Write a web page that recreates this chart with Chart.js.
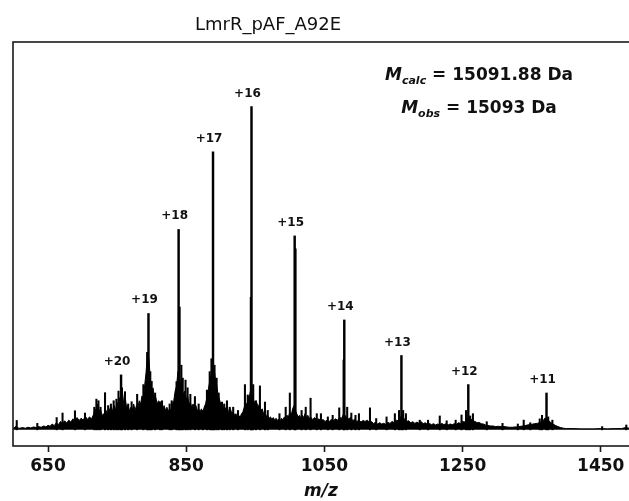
<!DOCTYPE html>
<html>
<head>
<meta charset="utf-8">
<script src="https://cdn.jsdelivr.net/npm/chart.js@4.4.1/dist/chart.umd.min.js"></script>
<style>
  body { margin: 0; background: #fff; }
  #spectrum { display: block; }
</style>
</head>
<body>
<canvas id="spectrum" width="629" height="501"></canvas>
<script>
// spectrum background (m/z, relative intensity)
var backgroundMz = [599.5, 602, 604, 606, 609, 613, 617, 621, 625, 629, 633, 636, 640, 644, 647,
  650, 653, 656, 659, 662, 665, 668, 671, 674, 677, 680, 683, 686, 689, 692, 695, 698, 701, 704, 707,
  710, 713, 716, 718, 720, 722, 724, 726, 728, 730, 732, 734, 736, 738, 740, 742, 744, 746, 748, 750,
  752, 754, 756, 758, 760, 762, 764, 766, 768, 770, 772, 774, 776, 778, 780, 782, 784, 786, 788, 790,
  792, 794, 796, 798, 800, 802, 804, 806, 808, 810, 812, 814, 816, 818, 820, 822, 824, 826, 828, 830,
  832, 834, 836, 838, 840, 842, 844, 846, 848, 850, 852, 854, 856, 858, 860, 862, 864, 866, 868, 870,
  872, 874, 876, 878, 880, 882, 884, 886, 888, 890, 892, 894, 896, 898, 900, 902, 904, 906, 908, 910,
  912, 914, 916, 918, 920, 922, 924, 926, 928, 930, 932, 934, 936, 938, 940, 942, 944, 946, 948, 950,
  952, 954, 956, 958, 960, 962, 964, 966, 968, 970, 972, 974, 976, 978, 980, 982, 984, 986, 988, 990,
  992, 994, 996, 998, 1000, 1002, 1004, 1006, 1008, 1010, 1012, 1014, 1016, 1018, 1020, 1022, 1024,
  1026, 1028, 1030, 1033, 1036, 1039, 1042, 1045, 1048, 1051, 1054, 1057, 1060, 1063, 1066, 1069,
  1072, 1075, 1078, 1080, 1082, 1085, 1088, 1091, 1094, 1097, 1100, 1103, 1106, 1109, 1112, 1115,
  1118, 1121, 1124, 1127, 1130, 1133, 1136, 1139, 1142, 1145, 1148, 1151, 1154, 1157, 1160, 1163,
  1166, 1169, 1172, 1175, 1178, 1181, 1184, 1187, 1190, 1193, 1196, 1199, 1202, 1205, 1208, 1211,
  1214, 1217, 1220, 1223, 1226, 1229, 1232, 1235, 1238, 1241, 1244, 1247, 1250, 1253, 1256, 1259,
  1262, 1265, 1268, 1271, 1274, 1277, 1280, 1283, 1286, 1290, 1294, 1298, 1302, 1306, 1310, 1314,
  1318, 1322, 1326, 1330, 1334, 1338, 1342, 1346, 1350, 1354, 1358, 1362, 1366, 1369, 1372, 1375,
  1378, 1381, 1384, 1388, 1392, 1396, 1400, 1410, 1420, 1430, 1440, 1450, 1460, 1470, 1480, 1486, 1491];
var backgroundInt = [0.4, 0.8, 1.2, 0.6, 0.5, 0.7, 0.5, 0.8, 0.6, 0.9, 0.7, 1.0, 0.8, 1.2, 0.9,
  1.4, 1.1, 1.8, 1.3, 2.2, 1.6, 2.6, 2.0, 2.8, 2.1, 3.0, 2.4, 3.4, 2.6, 3.8, 2.9, 3.6, 3.0, 4.2, 3.2,
  4.0, 3.4, 4.8, 6.5, 5.0, 8.0, 5.5, 6.5, 4.2, 5.0, 4.5, 6.0, 4.6, 6.8, 5.2, 7.0, 5.5, 7.5, 6.0, 8.5,
  7.0, 10.0, 9.0, 11.0, 7.5, 9.5, 6.5, 7.5, 5.8, 7.0, 6.2, 8.0, 6.0, 7.5, 6.8, 9.0, 8.0, 10.5, 9.5, 14.0,
  18.0, 24.0, 22.0, 16.0, 12.0, 13.0, 9.5, 10.0, 8.0, 9.0, 7.2, 8.0, 6.5, 7.5, 6.0, 7.0, 5.8, 6.5, 6.0, 8.0,
  9.0, 12.0, 13.5, 18.0, 16.0, 14.0, 12.5, 11.0, 12.0, 9.5, 10.5, 8.0, 8.5, 7.0, 8.0, 6.5, 7.5, 6.0, 6.5, 5.5,
  6.5, 5.5, 7.0, 8.0, 10.0, 12.5, 15.0, 17.0, 19.0, 20.0, 16.0, 14.0, 11.0, 9.5, 8.0, 8.5, 6.5, 7.0, 6.0, 6.5,
  5.0, 6.5, 5.0, 5.5, 4.5, 5.0, 4.0, 4.5, 3.8, 5.0, 5.5, 7.0, 8.5, 7.5, 10.0, 11.0, 13.0, 10.0, 9.0, 8.0,
  8.5, 7.0, 8.0, 6.0, 6.5, 5.0, 5.5, 4.2, 4.5, 3.6, 4.0, 3.2, 3.8, 3.0, 3.6, 2.9, 3.4, 2.8, 3.6, 3.0,
  4.0, 3.4, 4.5, 4.0, 5.5, 4.5, 6.5, 7.5, 6.0, 5.0, 4.0, 4.5, 3.6, 4.5, 3.8, 5.0, 3.8,
  4.5, 3.5, 4.0, 3.2, 3.8, 3.0, 3.4, 2.8, 3.2, 2.6, 3.0, 2.6, 3.2, 2.8, 3.4, 3.0,
  3.8, 3.6, 5.0, 4.5, 3.8, 3.4, 3.8, 2.9, 3.2, 2.6, 3.0, 2.4, 2.9, 2.6, 3.0, 2.4,
  2.6, 2.0, 2.3, 1.8, 2.2, 1.8, 2.0, 1.7, 2.3, 2.0, 2.6, 2.2, 3.0, 2.8, 4.0, 4.5,
  3.2, 2.6, 2.8, 2.2, 2.5, 2.0, 2.4, 2.0, 2.6, 1.9, 2.2, 1.7, 2.0, 1.6, 1.9, 1.5,
  1.8, 1.6, 2.0, 1.6, 1.9, 1.5, 1.8, 1.6, 1.9, 1.7, 2.2, 2.0, 2.6, 2.4, 3.2, 4.0,
  3.4, 2.8, 2.6, 2.2, 2.3, 1.9, 1.8, 1.5, 1.4, 1.2, 1.2, 1.0, 1.1, 1.0, 1.0, 0.9,
  0.8, 0.8, 0.9, 0.9, 1.1, 1.2, 1.4, 1.6, 1.7, 1.9, 2.0, 2.3, 2.6, 3.6, 3.2, 2.8,
  2.2, 1.8, 1.4, 1.0, 0.7, 0.5, 0.4, 0.4, 0.3, 0.3, 0.3, 0.4, 0.3, 0.4, 0.4, 0.7, 0.5];

// minor sharp peaks
var spikeMz = [604.7, 634.5, 662.5, 671, 689, 703.5, 717, 720, 723, 726, 732.5, 737, 741, 745,
  749, 752, 757, 761.4, 766, 771, 779, 788, 793.5, 798, 800, 805, 812, 815, 826, 829, 836, 840.5,
  843, 845, 849, 852, 856, 862.6, 868, 874, 880, 884, 886.5, 891, 894, 897, 901.7, 905, 909, 913,
  918, 925, 935, 939, 943.5, 947, 951, 956.7, 964, 968, 985, 994, 1000, 1008.3, 1017, 1023, 1030,
  1039, 1045, 1055, 1062, 1071.5, 1077.8, 1083, 1089, 1095, 1100, 1116, 1125, 1140, 1152, 1158,
  1164, 1168, 1188, 1200, 1217, 1227, 1240, 1248.5, 1255, 1261, 1265, 1285, 1307.8, 1330, 1338.5,
  1348, 1361.7, 1365, 1374, 1380, 1452, 1487];
var spikeInt = [2.9, 2, 3.8, 5.2, 5.9, 5.2, 7, 9.5, 9, 7, 11.5, 7.5, 8, 9,
  9.5, 12, 13, 11.8, 8, 8.7, 11, 14, 24, 18, 15, 11.4, 8.7, 9, 8, 9, 14.9, 38,
  20, 16, 15.4, 13, 11, 10.3, 8, 6, 12.3, 18, 22, 20, 16, 11.4, 8.6, 8, 9, 7,
  7, 6, 14, 10.8, 41, 14, 9, 13.6, 8.6, 6, 5, 7, 11.4, 56, 6, 7, 9.8,
  5, 5, 4, 4.5, 6.8, 21.6, 7, 5.2, 4.5, 5, 6.8, 3.5, 4, 5, 6,
  6, 5, 3, 3, 4.3, 2.8, 3, 4.6, 6, 4.3, 5, 2.5, 2, 1.8, 3,
  2.2, 3.4, 4.5, 4, 3, 1, 1.5];

// charge states
var chargeLabels = ['+20', '+19', '+18', '+17', '+16', '+15', '+14', '+13', '+12', '+11'];
var chargeMz = [755.7, 795.4, 839.0, 888.8, 944.5, 1007.0, 1078.8, 1161.5, 1258.3, 1371.5];
var chargeInt = [17, 36, 62, 86, 100, 60, 34, 23, 14, 11.4];

var xTicks = [650, 850, 1050, 1250, 1450];

var titleText = 'LmrR_pAF_A92E';
var massLines = [
  { sub: 'calc', value: ' = 15091.88 Da' },
  { sub: 'obs', value: ' = 15093 Da' }
];

function pairs(xs, ys) {
  return xs.map(function(x, i) { return { x: x, y: ys[i] }; });
}

var textPlugin = {
  id: 'textPlugin',
  beforeDraw: function(chart) {
    var ctx = chart.ctx;
    ctx.save();
    ctx.fillStyle = '#fff';
    ctx.fillRect(0, 0, chart.width, chart.height);
    ctx.restore();
  },
  afterDraw: function(chart) {
    var ctx = chart.ctx;
    var area = chart.chartArea;
    var xs = chart.scales.x, ys = chart.scales.y;
    ctx.save();

    // frame
    ctx.strokeStyle = '#1a1a1a';
    ctx.lineWidth = 1.6;
    ctx.strokeRect(area.left, area.top, area.right - area.left + 4, area.bottom - area.top);

    ctx.fillStyle = '#111';
    // title
    ctx.font = '18px "DejaVu Sans"';
    ctx.textAlign = 'center';
    ctx.textBaseline = 'alphabetic';
    ctx.fillText(titleText, 268, 30);

    // charge labels
    ctx.font = 'bold 12px "DejaVu Sans"';
    chargeLabels.forEach(function(lab, i) {
      var px = xs.getPixelForValue(chargeMz[i]) - 4;
      var py = ys.getPixelForValue(chargeInt[i]) - 10;
      ctx.fillText(lab, px, py);
    });

    // masses
    var cx = 479;
    massLines.forEach(function(line, i) {
      var base = 80 + i * 33;
      ctx.font = 'italic bold 17px "DejaVu Sans"';
      var wM = ctx.measureText('M').width;
      ctx.font = 'italic bold 11px "DejaVu Sans"';
      var wS = ctx.measureText(line.sub).width;
      ctx.font = 'bold 17px "DejaVu Sans"';
      var wV = ctx.measureText(line.value).width;
      var x0 = cx - (wM + wS + wV) / 2;
      ctx.textAlign = 'left';
      ctx.font = 'italic bold 17px "DejaVu Sans"';
      ctx.fillText('M', x0, base);
      ctx.font = 'italic bold 11px "DejaVu Sans"';
      ctx.fillText(line.sub, x0 + wM, base + 4);
      ctx.font = 'bold 17px "DejaVu Sans"';
      ctx.fillText(line.value, x0 + wM + wS, base);
    });

    // x axis label
    ctx.textAlign = 'center';
    ctx.font = 'italic bold 17px "DejaVu Sans"';
    ctx.fillText('m/z', (area.left + 629) / 2, 496);
    ctx.restore();
  }
};

var ctx = document.getElementById('spectrum').getContext('2d');
new Chart(ctx, {
  data: {
    datasets: [
      {
        type: 'line',
        data: pairs(backgroundMz, backgroundInt),
        borderColor: '#000',
        backgroundColor: '#000',
        borderWidth: 1,
        pointRadius: 0,
        tension: 0,
        fill: 'origin'
      },
      {
        type: 'bar',
        data: pairs(spikeMz, spikeInt),
        backgroundColor: '#000',
        barThickness: 1.4,
        grouped: false
      },
      {
        type: 'bar',
        data: pairs(chargeMz, chargeInt),
        backgroundColor: '#000',
        barThickness: 1.8,
        grouped: false
      }
    ]
  },
  options: {
    responsive: false,
    animation: false,
    devicePixelRatio: 1,
    layout: { padding: { left: 13, top: 42, right: 0, bottom: 0 } },
    plugins: {
      legend: { display: false },
      title: { display: false },
      tooltip: { enabled: false }
    },
    scales: {
      x: {
        type: 'linear',
        offset: false,
        min: 599.3,
        max: 1490.9,
        afterBuildTicks: function(scale) {
          scale.ticks = xTicks.map(function(v) { return { value: v }; });
        },
        afterFit: function(scale) { scale.height = 55; },
        ticks: {
          color: '#111',
          font: { family: 'DejaVu Sans', size: 17, weight: 'bold' },
          padding: 4,
          maxRotation: 0,
          autoSkip: false,
          callback: function(v) { return String(v); }
        },
        grid: {
          offset: false,
          drawOnChartArea: false,
          drawTicks: true,
          tickLength: 6,
          tickWidth: 1.6,
          tickColor: '#1a1a1a'
        },
        border: { display: false }
      },
      y: {
        display: false,
        min: -5,
        max: 120
      }
    }
  },
  plugins: [textPlugin]
});
</script>
</body>
</html>
